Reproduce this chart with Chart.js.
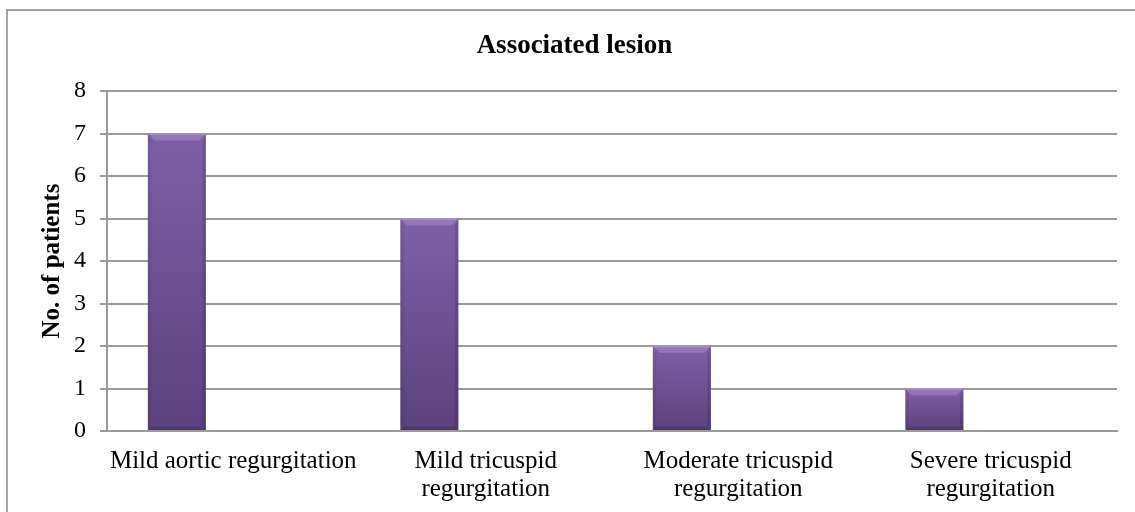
<!DOCTYPE html>
<html><head><meta charset="utf-8">
<script src="https://cdn.jsdelivr.net/npm/chart.js@4.4.0/dist/chart.umd.min.js"></script>
<style>
html,body{margin:0;padding:0;background:#fff;}
#wrap{position:relative;width:1135px;height:512px;overflow:hidden;background:#fff;}
#frame{position:absolute;left:6px;top:9px;width:1200px;height:600px;border:2px solid #a3a3a3;box-sizing:border-box;}
canvas{position:absolute;left:0;top:0;}
</style></head><body>
<div id="wrap"><div id="frame"></div><canvas id="c" width="1135" height="512"></canvas></div>
<script>
const categories = [
  ['Mild aortic regurgitation'],
  ['Mild tricuspid', 'regurgitation'],
  ['Moderate tricuspid', 'regurgitation'],
  ['Severe tricuspid', 'regurgitation']
];
const patients = [7, 5, 2, 1];
const emptySeriesA = [null, null, null, null];
const emptySeriesB = [null, null, null, null];
const yMin = 0;
const yMax = 8;
const yStep = 1;
const chartTitle = 'Associated lesion';
const yAxisTitle = 'No. of patients';

const SERIF = '"Liberation Serif", "Times New Roman", serif';

function barGradient(context) {
  const chart = context.chart;
  if (!chart.chartArea || context.type !== 'data') return '#6c4f93';
  const ys = chart.scales.y;
  const top = ys.getPixelForValue(context.raw);
  const bottom = ys.getPixelForValue(0);
  if (!isFinite(top) || !isFinite(bottom) || bottom - top < 1) return '#6c4f93';
  const g = chart.ctx.createLinearGradient(0, top, 0, bottom);
  g.addColorStop(0, '#7e60a7');
  g.addColorStop(1, '#5b417d');
  return g;
}

const bevel = {
  id: 'bevel',
  afterDatasetsDraw(chart) {
    const ctx = chart.ctx;
    chart.getDatasetMeta(0).data.forEach(bar => {
      const p = bar.getProps(['x', 'y', 'base', 'width'], true);
      const l = p.x - p.width / 2, r = p.x + p.width / 2, t = p.y, b = p.base;
      const s = Math.min(7, (b - t) / 3);
      ctx.save();
      // top bevel highlight
      ctx.fillStyle = 'rgba(255,255,255,0.16)';
      ctx.beginPath();
      ctx.moveTo(l, t); ctx.lineTo(r, t); ctx.lineTo(r - s, t + s); ctx.lineTo(l + s, t + s);
      ctx.closePath(); ctx.fill();
      ctx.fillStyle = 'rgba(255,255,255,0.18)';
      ctx.fillRect(l, t, r - l, 1.5);
      // left bevel
      ctx.fillStyle = 'rgba(0,0,0,0.06)';
      ctx.beginPath();
      ctx.moveTo(l, t); ctx.lineTo(l + s * 0.5, t + s); ctx.lineTo(l + s * 0.5, b - s * 0.5); ctx.lineTo(l, b);
      ctx.closePath(); ctx.fill();
      // right bevel
      ctx.fillStyle = 'rgba(0,0,0,0.12)';
      ctx.beginPath();
      ctx.moveTo(r, t); ctx.lineTo(r - s * 0.5, t + s); ctx.lineTo(r - s * 0.5, b - s * 0.5); ctx.lineTo(r, b);
      ctx.closePath(); ctx.fill();
      // bottom bevel
      ctx.fillStyle = 'rgba(0,0,0,0.14)';
      ctx.beginPath();
      ctx.moveTo(l, b); ctx.lineTo(r, b); ctx.lineTo(r - s * 0.5, b - s * 0.5); ctx.lineTo(l + s * 0.5, b - s * 0.5);
      ctx.closePath(); ctx.fill();
      ctx.restore();
    });
  }
};

new Chart(document.getElementById('c'), {
  type: 'bar',
  data: {
    labels: categories,
    datasets: [
      { label: 'Patients', data: patients, backgroundColor: barGradient, borderWidth: 0 },
      { label: 'B', data: emptySeriesA, backgroundColor: 'rgba(0,0,0,0)' },
      { label: 'C', data: emptySeriesB, backgroundColor: 'rgba(0,0,0,0)' }
    ]
  },
  options: {
    responsive: false,
    animation: false,
    devicePixelRatio: 1,
    layout: { padding: { left: 32, right: 18, top: 0, bottom: 0 } },
    datasets: { bar: { categoryPercentage: 0.67, barPercentage: 1.03 } },
    plugins: {
      legend: { display: false },
      tooltip: { enabled: false },
      title: {
        display: true,
        text: chartTitle,
        color: '#000',
        font: { family: SERIF, size: 27, weight: 'bold', lineHeight: 1.2 },
        padding: { top: 29.8, bottom: 28.8 }
      }
    },
    scales: {
      x: {
        grid: { display: false, drawTicks: false, tickLength: 0 },
        border: { display: true, color: '#9a9a9a', width: 2 },
        ticks: {
          color: '#000',
          font: { family: SERIF, size: 25, lineHeight: 1.1 },
          padding: 17,
          maxRotation: 0,
          autoSkip: false
        },
        afterFit(scale) { scale.height = 81; }
      },
      y: {
        min: yMin,
        max: yMax,
        grid: { color: '#9a9a9a', lineWidth: 2, tickLength: 7, drawTicks: true, tickColor: '#9a9a9a' },
        border: { display: true, color: '#9a9a9a', width: 2 },
        ticks: {
          stepSize: yStep,
          color: '#000',
          font: { family: SERIF, size: 24 },
          padding: 14
        },
        title: {
          display: true,
          text: yAxisTitle,
          color: '#000',
          font: { family: SERIF, size: 25, weight: 'bold', lineHeight: 1.2 },
          padding: { top: 6, bottom: 0 }
        },
        afterFit(scale) { scale.width = 75; }
      }
    }
  },
  plugins: [bevel]
});
</script>
</body></html>
